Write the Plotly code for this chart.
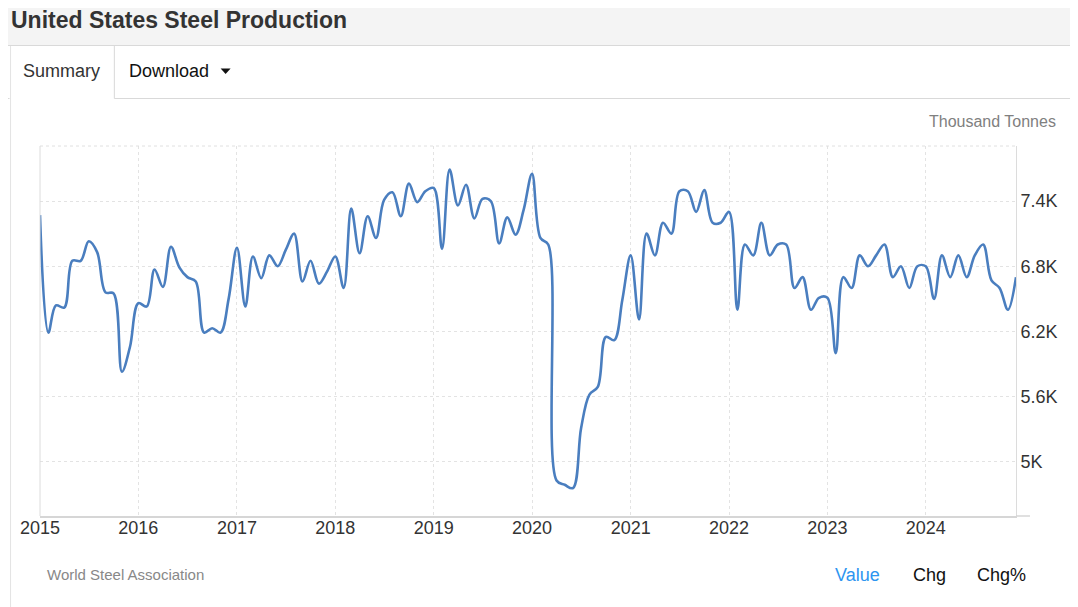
import plotly.graph_objects as go
import pandas as pd

# ---- data (thousand tonnes, monthly, Jan 2015 - Dec 2024) ----
v2015 = [7270, 6190, 6440, 6420, 6850, 6850, 7030, 6930, 6560, 6550, 5830, 6060]
v2016 = [6460, 6430, 6770, 6610, 6980, 6790, 6700, 6660, 6190, 6230, 6190, 6500]
v2017 = [6970, 6430, 6890, 6690, 6900, 6800, 6950, 7100, 6660, 6850, 6640, 6750]
v2018 = [6890, 6600, 7330, 6920, 7260, 7060, 7410, 7480, 7260, 7560, 7390, 7490]
v2019 = [7520, 6960, 7690, 7360, 7550, 7240, 7420, 7400, 7010, 7250, 7090, 7320]
v2020 = [7650, 7060, 7000, 4830, 4790, 4760, 5310, 5620, 5690, 6150, 6120, 6490]
v2021 = [6900, 6310, 7100, 6900, 7200, 7100, 7490, 7490, 7300, 7500, 7200, 7200]
v2022 = [7300, 6400, 7000, 6900, 7200, 6900, 7000, 7000, 6600, 6700, 6400, 6510]
v2023 = [6510, 6000, 6700, 6600, 6900, 6800, 6900, 7000, 6700, 6800, 6600, 6800]
v2024 = [6800, 6500, 6900, 6700, 6900, 6700, 6900, 7000, 6670, 6600, 6400, 6700]

values = v2015 + v2016 + v2017 + v2018 + v2019 + v2020 + v2021 + v2022 + v2023 + v2024
dates = pd.date_range("2015-01-01", periods=len(values), freq="MS")

year_ticks = ["2015", "2016", "2017", "2018", "2019", "2020", "2021", "2022", "2023", "2024"]
y_tick_vals = [5000, 5600, 6200, 6800, 7400]
y_tick_text = ["5K", "5.6K", "6.2K", "6.8K", "7.4K"]

title_text = "United States Steel Production"
unit_text = "Thousand Tonnes"
source_text = "World Steel Association"

FONT = "Arial, Liberation Sans, sans-serif"

# page offset of the figure (default body margin)
OFF = 8
PAGE_W, PAGE_H = 1078, 607
# plot area in page pixels
L, R, T, B = 38, 1016, 146, 516
W, H = R - L, B - T


def px(x):
    return (x - L) / W


def py(y):
    return (B - y) / H


fig = go.Figure()
fig.add_trace(go.Scatter(
    x=dates, y=values, mode="lines",
    line=dict(color="#4a7ebf", width=2.6, shape="spline", smoothing=1.0),
    hoverinfo="skip", showlegend=False,
))

shapes = []
# header bar
shapes.append(dict(type="rect", xref="paper", yref="paper", x0=px(0), x1=px(1078), y0=py(0), y1=py(45),
                   fillcolor="#f4f4f4", line=dict(width=0), layer="below"))
shapes.append(dict(type="line", xref="paper", yref="paper", x0=px(0), x1=px(1078), y0=py(45.5), y1=py(45.5),
                   line=dict(color="#d9d9d9", width=1)))
# tab borders
shapes.append(dict(type="line", xref="paper", yref="paper", x0=px(0), x1=px(7.5), y0=py(98.5), y1=py(98.5),
                   line=dict(color="#d9d9d9", width=1)))
shapes.append(dict(type="line", xref="paper", yref="paper", x0=px(112.5), x1=px(1078), y0=py(98.5), y1=py(98.5),
                   line=dict(color="#d9d9d9", width=1)))
shapes.append(dict(type="line", xref="paper", yref="paper", x0=px(8.5), x1=px(8.5), y0=py(46), y1=py(607),
                   line=dict(color="#e3e3e3", width=1)))
shapes.append(dict(type="line", xref="paper", yref="paper", x0=px(112.5), x1=px(112.5), y0=py(46), y1=py(98.5),
                   line=dict(color="#d9d9d9", width=1)))
# dropdown caret
shapes.append(dict(type="path", xref="paper", yref="paper",
                   path="M {} {} L {} {} L {} {} Z".format(px(219), py(68.5), px(229), py(68.5), px(224), py(74)),
                   fillcolor="#111111", line=dict(width=0)))
# plot frame: left, top (dotted), bottom extension
shapes.append(dict(type="line", xref="paper", yref="paper", x0=0, x1=0, y0=0, y1=1,
                   line=dict(color="#dcdcdc", width=1)))
shapes.append(dict(type="line", xref="paper", yref="paper", x0=0, x1=1, y0=1, y1=1,
                   line=dict(color="#e0e0e0", width=1, dash="dot")))
shapes.append(dict(type="line", xref="paper", yref="paper", x0=1, x1=px(1030), y0=0, y1=0,
                   line=dict(color="#d6d6d6", width=1.5)))

annotations = [
    dict(text="<b>" + title_text + "</b>", xref="paper", yref="paper", x=px(7), y=py(20),
         xanchor="left", yanchor="middle", showarrow=False, font=dict(family=FONT, size=23, color="#333333")),
    dict(text="Summary", xref="paper", yref="paper", x=px(59.5), y=py(71),
         xanchor="center", yanchor="middle", showarrow=False, font=dict(family=FONT, size=18, color="#333333")),
    dict(text="Download", xref="paper", yref="paper", x=px(125), y=py(71),
         xanchor="left", yanchor="middle", showarrow=False, font=dict(family=FONT, size=18, color="#111111")),
    dict(text=unit_text, xref="paper", yref="paper", x=px(1058), y=py(121),
         xanchor="right", yanchor="middle", showarrow=False, font=dict(family=FONT, size=16, color="#808080")),
    dict(text=source_text, xref="paper", yref="paper", x=px(43), y=py(574),
         xanchor="left", yanchor="middle", showarrow=False, font=dict(family=FONT, size=15, color="#888888")),
    dict(text="Value", xref="paper", yref="paper", x=px(857), y=py(575),
         xanchor="center", yanchor="middle", showarrow=False, font=dict(family=FONT, size=18, color="#2d95f0")),
    dict(text="Chg", xref="paper", yref="paper", x=px(929), y=py(575),
         xanchor="center", yanchor="middle", showarrow=False, font=dict(family=FONT, size=18, color="#111111")),
    dict(text="Chg%", xref="paper", yref="paper", x=px(1001), y=py(575),
         xanchor="center", yanchor="middle", showarrow=False, font=dict(family=FONT, size=18, color="#111111")),
]

fig.update_layout(
    width=PAGE_W - OFF, height=PAGE_H - OFF,
    margin=dict(l=L - OFF, r=PAGE_W - R, t=T - OFF, b=PAGE_H - B, pad=0),
    paper_bgcolor="#ffffff", plot_bgcolor="#ffffff",
    font=dict(family=FONT, size=18, color="#333333"),
    showlegend=False, hovermode=False,
    shapes=shapes, annotations=annotations,
    xaxis=dict(
        type="date",
        range=["2015-01-01", "2024-12-01"],
        tickvals=[pd.Timestamp(y + "-01-01") for y in year_ticks],
        ticktext=year_ticks,
        showgrid=True, gridcolor="#e3e3e3", griddash="dot", gridwidth=1,
        showline=True, linecolor="#d6d6d6", linewidth=1.5,
        ticks="", zeroline=False, ticklabelstandoff=-5,
        tickfont=dict(family=FONT, size=18, color="#333333"),
    ),
    yaxis=dict(
        side="right",
        range=[4503, 7906],
        tickvals=y_tick_vals, ticktext=y_tick_text,
        showgrid=True, gridcolor="#e3e3e3", griddash="dot", gridwidth=1,
        showline=True, linecolor="#dcdcdc", linewidth=1,
        ticks="", zeroline=False,
        tickfont=dict(family=FONT, size=18, color="#333333"),
    ),
)

fig.write_html("out.html")
